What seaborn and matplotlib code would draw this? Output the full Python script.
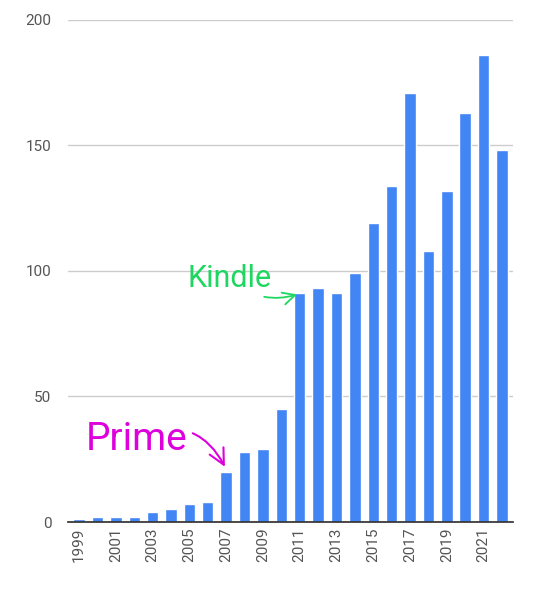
import matplotlib
matplotlib.use("Agg")
import matplotlib.pyplot as plt
import seaborn as sns
import pandas as pd

years = list(range(1999, 2023))
values = [1, 2, 2, 2, 4, 5, 7, 8, 20, 28, 29, 45, 91, 93, 91, 99,
          119, 134, 171, 108, 132, 163, 186, 148]
tick_labels = [str(y) if y % 2 == 1 else "" for y in years]

sns.set_theme(style="white")
plt.rcParams['font.family'] = ['Roboto', 'DejaVu Sans']

fig = plt.figure(figsize=(5.4, 6), dpi=100)
ax = fig.add_axes([0.126, 0.13, 0.824, 0.837])
df = pd.DataFrame({"year": [str(y) for y in years], "value": values})
sns.barplot(data=df, x="year", y="value", color="#4285f4", saturation=1,
            width=0.62, ax=ax)

ax.set_ylim(0, 200)
ax.set_yticks([0, 50, 100, 150, 200])
ax.yaxis.grid(True, color="#cccccc", linewidth=1)
ax.set_axisbelow(True)
ax.tick_params(axis="y", length=0, labelsize=11, labelcolor="#555555", pad=12)
ax.set_xticks(range(len(years)))
ax.set_xticklabels(tick_labels, rotation=90, fontsize=11, color="#555555")
ax.tick_params(axis="x", length=0, pad=4)
ax.set_xlim(-0.6, len(years) - 0.4)
for s in ["top", "right", "left"]:
    ax.spines[s].set_visible(False)
ax.spines["bottom"].set_color("#333333")
ax.set_xlabel("")
ax.set_ylabel("")

# handwritten notes
ax.annotate("Kindle", xy=(12, 91), xytext=(8.2, 97), fontsize=22,
            color="#1ed760", va="center", ha="center",
            arrowprops=dict(arrowstyle="->", color="#1ed760", lw=1.3,
                            connectionstyle="arc3,rad=0.3"))
ax.annotate("Prime", xy=(8, 21), xytext=(3.1, 33), fontsize=28,
            color="#dd00dd", va="center", ha="center",
            arrowprops=dict(arrowstyle="->", color="#dd00dd", lw=1.5,
                            connectionstyle="arc3,rad=-0.5"))

fig.savefig("out.png", dpi=100, facecolor="white")
